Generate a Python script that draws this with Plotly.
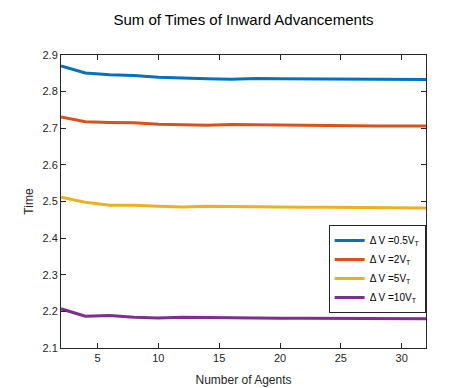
import plotly.graph_objects as go

agents = [2, 4, 6, 8, 10, 12, 14, 16, 18, 20, 22, 24, 26, 28, 30, 32]

dv_05 = [2.870, 2.851, 2.846, 2.844, 2.839, 2.836, 2.835, 2.834, 2.836, 2.835,
         2.835, 2.834, 2.834, 2.833, 2.833, 2.833]
dv_2 = [2.731, 2.718, 2.716, 2.715, 2.711, 2.709, 2.708, 2.710, 2.709, 2.708,
        2.708, 2.707, 2.707, 2.706, 2.706, 2.706]
dv_5 = [2.512, 2.498, 2.490, 2.490, 2.487, 2.485, 2.487, 2.486, 2.485, 2.485,
        2.484, 2.484, 2.484, 2.483, 2.483, 2.482]
dv_10 = [2.207, 2.187, 2.189, 2.184, 2.182, 2.184, 2.183, 2.182, 2.182, 2.181,
         2.181, 2.181, 2.180, 2.180, 2.180, 2.180]

names = ["Δ V =0.5V<sub>T</sub>", "Δ V =2V<sub>T</sub>", "Δ V =5V<sub>T</sub>", "Δ V =10V<sub>T</sub>"]
colors = ["#0072BD", "#D95319", "#EDB120", "#7E2F8E"]

fig = go.Figure()
for ys, nm, c in zip([dv_05, dv_2, dv_5, dv_10], names, colors):
    fig.add_trace(go.Scatter(x=agents, y=ys, mode="lines", name=nm,
                             line=dict(color=c, width=3)))

axis_common = dict(showgrid=False, zeroline=False, showline=True, mirror="ticks",
                   linecolor="#262626", linewidth=1, ticks="inside", ticklen=5,
                   tickcolor="#262626", tickfont=dict(size=11, color="#262626"))

# page body has an 8px margin, so margins are trimmed to land where the reference is
fig.update_layout(
    width=471, height=388,
    font=dict(family="Liberation Sans, Arial, sans-serif", color="#262626"),
    title=dict(text="Sum of Times of Inward Advancements", x=0.5, xanchor="center",
               y=0.969, yanchor="middle", font=dict(size=15, color="#000000")),
    plot_bgcolor="white", paper_bgcolor="white",
    margin=dict(l=53, r=53, t=47, b=48),
    xaxis=dict(range=[2, 32], tickvals=[5, 10, 15, 20, 25, 30],
               title=dict(text="Number of Agents", font=dict(size=12), standoff=12),
               **axis_common),
    yaxis=dict(range=[2.1, 2.9], tickvals=[2.1, 2.2, 2.3, 2.4, 2.5, 2.6, 2.7, 2.8, 2.9],
               tickformat=".1f",
               title=dict(text="Time", font=dict(size=12), standoff=6),
               **axis_common),
    legend=dict(x=0.999, y=0.42, xanchor="right", yanchor="top",
                bgcolor="white", bordercolor="#262626", borderwidth=1,
                font=dict(size=10, color="#000000"), tracegroupgap=0,
                itemwidth=30),
    showlegend=True,
)

fig.write_html("out.html")
